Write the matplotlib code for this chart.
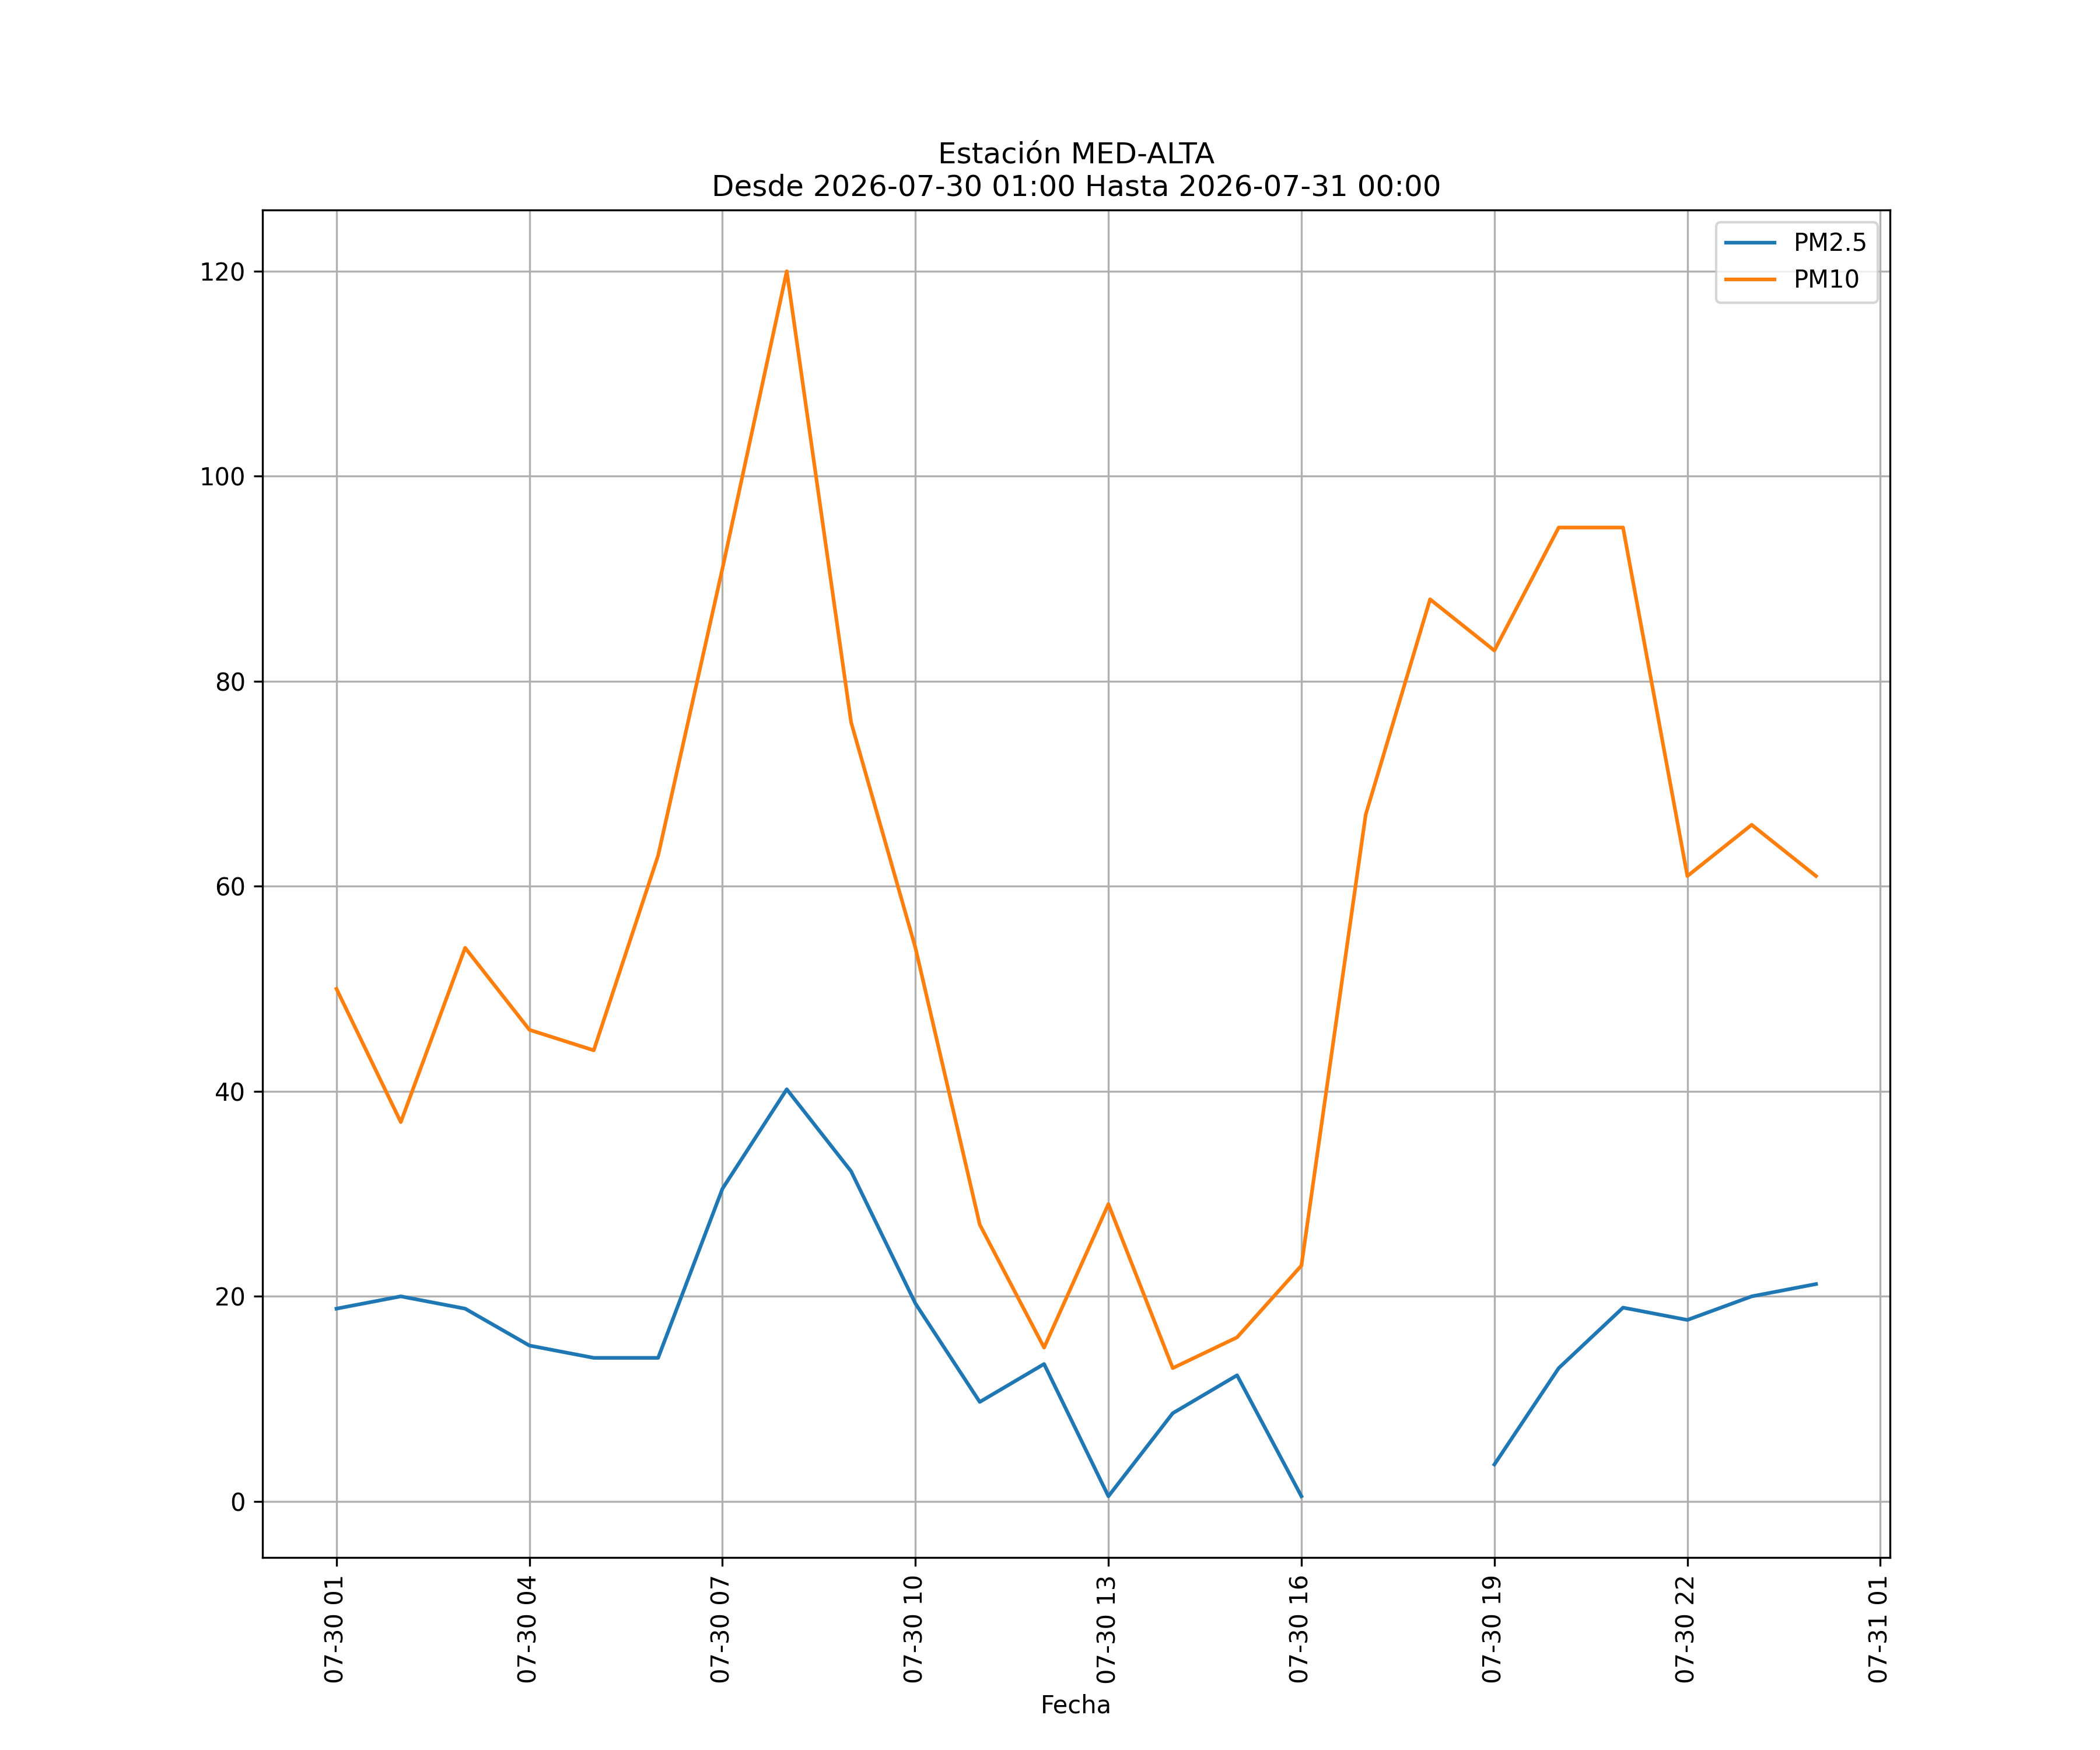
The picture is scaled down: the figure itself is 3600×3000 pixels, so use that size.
import numpy as np
import pandas as pd
import matplotlib
matplotlib.use('Agg')
import matplotlib.pyplot as plt
import matplotlib.dates as mdates

fechas = pd.date_range('2026-07-30 01:00', '2026-07-31 00:00', freq='h')
pm25 = [18.8, 20.0, 18.8, 15.2, 14.0, 14.0, 30.5, 40.2, 32.2, 19.3, 9.7, 13.4,
        0.5, 8.6, 12.3, 0.5, np.nan, np.nan, 3.6, 13.0, 18.9, 17.7, 20.0, 21.2]
pm10 = [50, 37, 54, 46, 44, 63, 91, 120, 76, 54, 27, 15,
        29, 13, 16, 23, 67, 88, 83, 95, 95, 61, 66, 61]

fig, ax = plt.subplots(figsize=(12, 10))
ax.plot(fechas, pm25, label='PM2.5')
ax.plot(fechas, pm10, label='PM10')
ax.set_title('Estación MED-ALTA\nDesde 2026-07-30 01:00 Hasta 2026-07-31 00:00')
ax.set_xlabel('Fecha')
ax.xaxis.set_major_locator(mdates.HourLocator(byhour=range(1, 24, 3)))
ax.xaxis.set_major_formatter(mdates.DateFormatter('%m-%d %H'))
plt.setp(ax.get_xticklabels(), rotation=90)
ax.grid(True)
ax.legend(loc='upper right')
fig.savefig('out.png', dpi=300)
